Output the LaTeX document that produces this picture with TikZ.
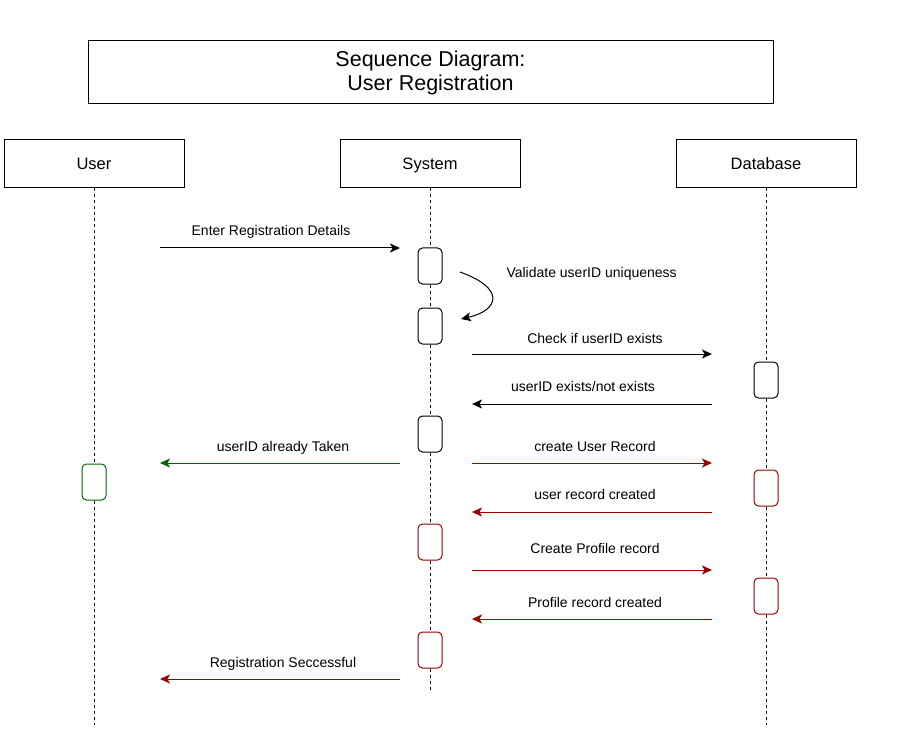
\documentclass[tikz,border=0pt]{standalone}
\usepackage{fontspec}
\setmainfont{Liberation Sans}
\usetikzlibrary{arrows.meta}
\definecolor{darkred}{RGB}{153,0,0}
\definecolor{darkgreen}{RGB}{0,102,0}

\begin{document}
\begin{tikzpicture}[x=1pt, y=-1pt,
	head/.style={draw, minimum width=180pt, minimum height=48pt, font=\fontsize{16.5}{19}\selectfont, text height=2.4ex, text depth=.3ex, line width=1pt},
	act/.style={draw, rounded corners=4.5pt, minimum width=24pt, minimum height=36pt, fill=white, line width=1pt},
	msg/.style={-{Stealth[length=10pt,width=9pt,inset=2.5pt]}, line width=1pt},
	lbl/.style={font=\fontsize{14}{17}\selectfont, text height=1.5ex, text depth=.3ex},
	life/.style={line width=1pt, dash pattern=on 3pt off 3pt}]
	\useasboundingbox (0,0) rectangle (922,749);
	% title
	\node[draw, line width=1pt, minimum width=685pt, minimum height=63pt, align=center, font=\fontsize{21.5}{24}\selectfont] (title) at (430.5,72.5) {Sequence Diagram:\\User Registration};
	% lifelines
	\node[head] (user) at (94,164) {User};
	\node[head] (system) at (430,164) {System};
	\node[head] (db) at (766,164) {Database};
	\coordinate (userend) at (94,725);
	\coordinate (systemend) at (430,692);
	\coordinate (dbend) at (766,725);
	\draw[life] (user.south) -- (userend);
	\draw[life] (system.south) -- (systemend);
	\draw[life] (db.south) -- (dbend);
	% activations
	\node[act] (s1) at (430,266) {};
	\node[act] (s2) at (430,326) {};
	\node[act] (d1) at (766,380) {};
	\node[act] (s3) at (430,434) {};
	\node[act, draw=darkgreen] (u1) at (94,482) {};
	\node[act, draw=darkred] (d2) at (766,488) {};
	\node[act, draw=darkred] (s4) at (430,542) {};
	\node[act, draw=darkred] (d3) at (766,596) {};
	\node[act, draw=darkred] (s5) at (430,650) {};
	% message ends
	\coordinate (a1) at (160,248); \coordinate (b1) at (400,248);
	\coordinate (a2) at (460,272); \coordinate (b2) at (461,319);
	\coordinate (a3) at (472,354); \coordinate (b3) at (712,354);
	\coordinate (a4) at (712,404); \coordinate (b4) at (472,404);
	\coordinate (a5) at (400,463); \coordinate (b5) at (160,463);
	\coordinate (a6) at (472,463); \coordinate (b6) at (712,463);
	\coordinate (a7) at (712,512); \coordinate (b7) at (472,512);
	\coordinate (a8) at (472,570); \coordinate (b8) at (712,570);
	\coordinate (a9) at (712,619); \coordinate (b9) at (472,619);
	\coordinate (a10) at (400,679); \coordinate (b10) at (160,679);
	% messages
	\draw[msg] (a1) -- (b1);
	\node[lbl] (l1) at (271,232) {Enter Registration Details};
	\draw[msg] (a2) .. controls (505,288) and (500,310) .. (b2);
	\node[lbl, anchor=west] (l2) at (503,274) {Validate userID uniqueness};
	\draw[msg] (a3) -- (b3);
	\node[lbl] (l3) at (595,340) {Check if userID exists};
	\draw[msg] (a4) -- (b4);
	\node[lbl] (l4) at (583,388) {userID exists/not exists};
	\draw[msg, darkgreen] (a5) -- (b5);
	\node[lbl] (l5) at (283,448) {userID already Taken};
	\draw[msg, darkred] (a6) -- (b6);
	\node[lbl] (l6) at (595,448) {create User Record};
	\draw[msg, darkred] (a7) -- (b7);
	\node[lbl] (l7) at (595,496) {user record created};
	\draw[msg, darkred] (a8) -- (b8);
	\node[lbl] (l8) at (595,550) {Create Profile record};
	\draw[msg, darkred] (a9) -- (b9);
	\node[lbl] (l9) at (595,604) {Profile record created};
	\draw[msg, darkred] (a10) -- (b10);
	\node[lbl] (l10) at (283,664) {Registration Seccessful};
\end{tikzpicture}
\end{document}
